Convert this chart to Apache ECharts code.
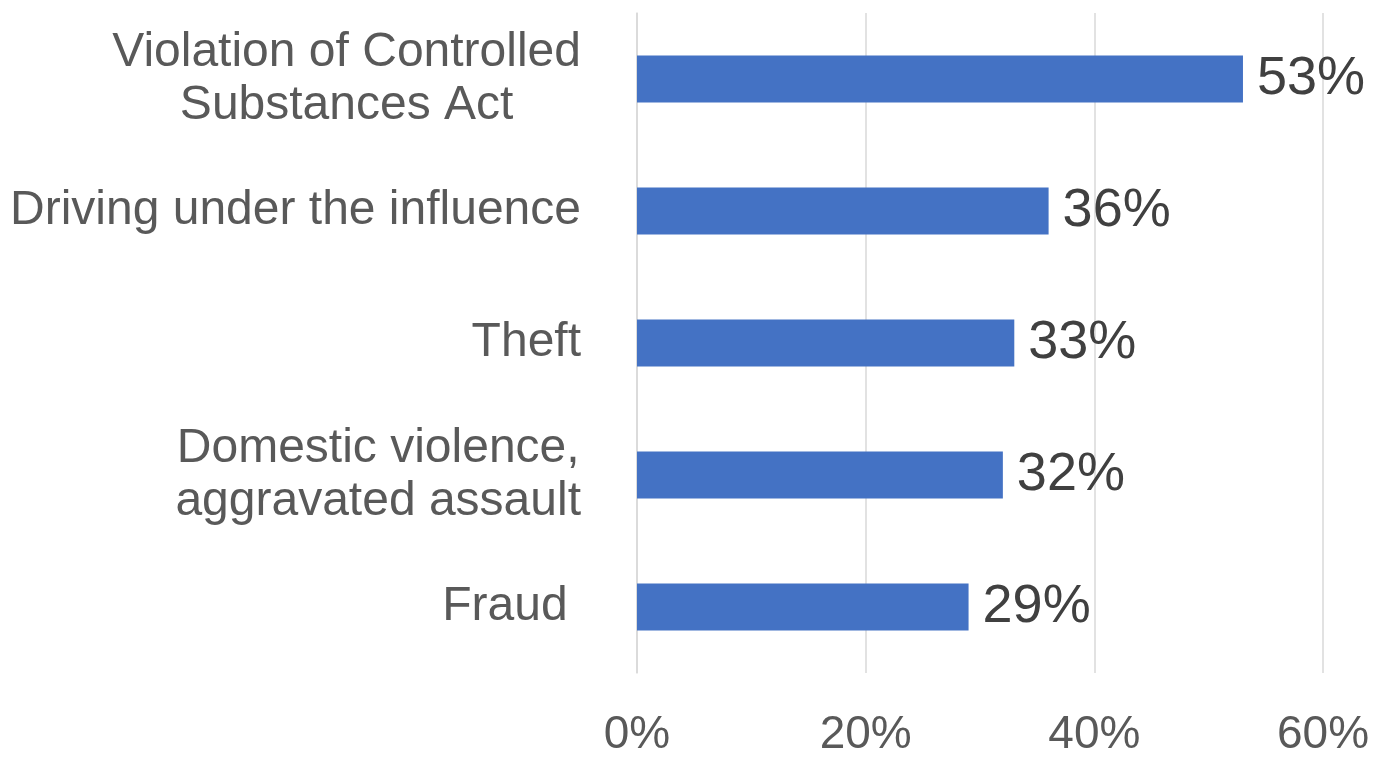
<!DOCTYPE html>
<html>
<head>
<meta charset="utf-8">
<script src="https://cdn.jsdelivr.net/npm/echarts@6/dist/echarts.min.js"></script>
<style>
html,body{margin:0;padding:0;background:#fff;}
#chart{width:1376px;height:758px;}
</style>
</head>
<body>
<div id="chart"></div>
<script>
// Offense categories, top to bottom
const categories = [
  'Violation of Controlled\nSubstances Act',
  'Driving under the influence',
  'Theft',
  'Domestic violence,\naggravated assault',
  'Fraud '
];
// Share of cases (%)
const shares = [53, 36, 33, 32, 29];
// Value axis ticks (%)
const tickValues = [0, 20, 40, 60];

const FONT = '"Liberation Sans", Arial, sans-serif';

const chart = echarts.init(document.getElementById('chart'));
chart.setOption({
  animation: false,
  grid: { left: 637, right: 53, top: 13, bottom: 77, containLabel: false },
  xAxis: {
    type: 'value',
    min: tickValues[0],
    max: tickValues[tickValues.length - 1],
    interval: tickValues[1] - tickValues[0],
    axisLine: { show: false },
    axisTick: { show: false },
    splitLine: { lineStyle: { color: '#d9d9d9', width: 1.5 } },
    axisLabel: {
      formatter: v => v + '%',
      fontFamily: FONT, fontSize: 46, color: '#595959', margin: 39
    }
  },
  yAxis: {
    type: 'category',
    inverse: true,
    data: categories,
    axisLine: { show: true, lineStyle: { color: '#d9d9d9', width: 1.5 } },
    axisTick: { show: false },
    axisLabel: {
      margin: 56,
      formatter: v => v.split('\n').map(l => '{c|' + l + '}').join('\n'),
      rich: {
        c: { align: 'center', fontFamily: FONT, fontSize: 48, color: '#595959', lineHeight: 53 }
      }
    }
  },
  series: [{
    type: 'bar',
    data: shares,
    barWidth: 47,
    itemStyle: { color: '#4472c4' },
    label: {
      show: true,
      position: 'right',
      distance: 14,
      formatter: p => p.value + '%',
      fontFamily: FONT, fontSize: 54, color: '#404040'
    }
  }]
});
</script>
</body>
</html>
